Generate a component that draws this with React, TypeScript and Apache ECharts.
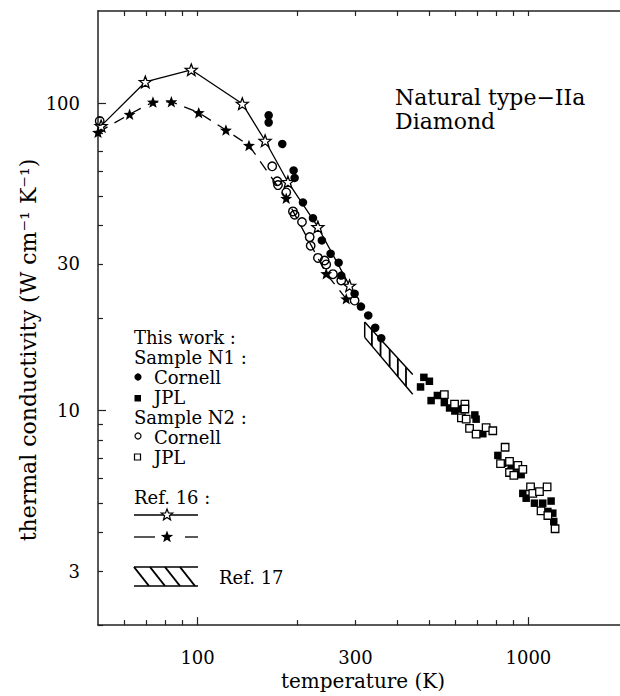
import React, { useEffect, useRef } from "react";
import * as echarts from "echarts";

// ---------- data (temperature in K, conductivity in W cm^-1 K^-1) ----------
const ref16SolidT = [51.1, 69.5, 95.7, 136.5, 160, 187.5, 231, 288];
const ref16SolidK = [84.5, 117.5, 128.7, 99.8, 75.6, 55.5, 39.6, 25.5];

const ref16DashT = [50.0, 62.3, 73.3, 83.3, 100.8, 121.8, 143, 185.3, 244.8, 281.4];
const ref16DashK = [80.5, 92.2, 101, 101.3, 93.3, 81.9, 73, 49.1, 27.9, 23.1];

const n1CornellT = [164, 164, 180.3, 195.1, 196.5, 208.2, 223.2, 237.5, 252.4, 266.9, 271.8, 298.3, 311.7, 328, 344.3, 359];
const n1CornellK = [91.5, 86.7, 73.8, 60.5, 57.2, 47.6, 42.3, 35.8, 32.4, 30.3, 27.5, 24.0, 21.8, 20.4, 18.6, 17.2];

const n2CornellT = [50.6, 168.1, 174.1, 175, 185.3, 194.2, 196.5, 206.8, 218.2, 219.7, 231.1, 242.1, 244.8, 256.5, 271.8, 298.3];
const n2CornellK = [87.7, 62.4, 55.8, 54.2, 51.3, 44.5, 43.4, 41.1, 36.7, 34.4, 31.4, 30.8, 29.9, 27.8, 26.5, 22.8];

const n1JplT = [483, 502, 472, 508, 530.6, 557, 577.7, 599.3, 619.3, 688.7, 695, 728.1, 808.5, 836.9, 886.5, 917.9, 950.6, 961.8, 984.5, 1043, 1105, 1171, 1145, 1185, 1193];
const n1JplK = [12.82, 12.45, 11.93, 10.77, 11.19, 10.61, 10.19, 9.96, 10.11, 9.67, 9.37, 8.4, 7.14, 6.73, 6.63, 6.54, 6.18, 5.37, 5.18, 4.99, 4.99, 5.07, 4.69, 4.63, 4.35];

const n2JplT = [557, 598, 642.7, 642.7, 627.2, 648.5, 663.8, 695, 745, 780.4, 850.4, 823.6, 876.7, 929, 961.8, 876.7, 903.5, 1015, 1139, 1031, 1080, 1092, 1145, 1204];
const n2JplK = [11.26, 10.49, 10.49, 10.11, 9.46, 9.37, 8.74, 8.38, 8.8, 8.59, 7.59, 6.71, 6.83, 6.63, 6.43, 6.28, 6.15, 5.64, 5.64, 5.37, 5.44, 4.71, 4.55, 4.12];

// Ref. 17 band: start/end temperature, upper and lower conductivity edges
const ref17T = [320, 447];
const ref17Upper = [19.4, 13.1];
const ref17Lower = [17.3, 11.3];

// axis ticks
const xRange = [50, 2000];
const yRange = [2, 200];
const xLabelTicks = [100, 300, 1000];
const xMajorTicks = [100, 1000];
const xMinorTicks = [60, 70, 80, 90, 200, 300, 400, 500, 600, 700, 800, 900, 2000];
const yLabelTicks = [3, 10, 30, 100];
const yMajorTicks = [10, 100];
const yMinorTicks = [2, 3, 4, 5, 6, 7, 8, 9, 20, 30, 40, 50, 60, 70, 80, 90];

const lg = (v: number) => Math.log10(v);
const pts = (T: number[], K: number[]) => T.map((t, i) => [lg(t), lg(K[i])]);

const STAR =
  "path://M0,-10 L2.47,-3.4 L9.51,-3.09 L3.99,1.3 L5.88,8.09 L0,4.2 L-5.88,8.09 L-3.99,1.3 L-9.51,-3.09 L-2.47,-3.4 Z";

function starPoints(cx: number, cy: number, R: number) {
  const p: number[][] = [];
  for (let i = 0; i < 10; i++) {
    const a = (-90 + i * 36) * (Math.PI / 180);
    const r = i % 2 === 0 ? R : R * 0.42;
    p.push([cx + r * Math.cos(a), cy + r * Math.sin(a)]);
  }
  return p;
}

const FONT = "DejaVu Serif";
const INK = "#000";

export default function App() {
  const ref = useRef<HTMLDivElement>(null);
  useEffect(() => {
    if (!ref.current) return;
    const chart = echarts.init(ref.current, null, { renderer: "svg" });
    const fmt = (v: number) => String(Math.round(Math.pow(10, v)));
    const axLine = { show: true, lineStyle: { color: "#222", width: 1.5 } };
    const tickStyle = { color: "#222", width: 1.2 };
    const baseX = {
      type: "value",
      min: lg(xRange[0]),
      max: lg(xRange[1]),
      splitLine: { show: false },
    };
    const baseY = {
      type: "value",
      min: lg(yRange[0]),
      max: lg(yRange[1]),
      splitLine: { show: false },
    };
    const labelStyle = { color: INK, fontFamily: FONT, fontSize: 18 };

    const hatchF = [0.15, 0.33, 0.52, 0.69, 0.86];

    const txt = (t: string, x: number, y: number, size = 18) => ({
      type: "text",
      x,
      y,
      style: {
        text: t,
        fill: INK,
        font: `${size}px "${FONT}"`,
        lineHeight: size,
        verticalAlign: "middle",
        textAlign: "left",
      },
    });
    const ln = (x1: number, y1: number, x2: number, y2: number, w = 1.4) => ({
      type: "line",
      shape: { x1, y1, x2, y2 },
      style: { stroke: INK, lineWidth: w },
    });

    chart.setOption({
      animation: false,
      backgroundColor: "#fff",
      grid: { left: 98, top: 11, right: 12, bottom: 63, containLabel: false },
      xAxis: [
        {
          ...baseX,
          position: "bottom",
          name: "temperature (K)",
          nameLocation: "middle",
          nameGap: 43,
          nameTextStyle: { color: INK, fontFamily: FONT, fontSize: 20 },
          axisLine: axLine,
          axisTick: { show: true, inside: true, length: 8, lineStyle: tickStyle, customValues: xMajorTicks.map(lg) },
          axisLabel: { ...labelStyle, margin: 23, customValues: xLabelTicks.map(lg), formatter: fmt },
        },
        {
          ...baseX,
          position: "bottom",
          axisLine: { show: false },
          axisTick: { show: true, inside: true, length: 5, lineStyle: tickStyle, customValues: xMinorTicks.map(lg) },
          axisLabel: { show: false },
        },
        {
          ...baseX,
          position: "top",
          axisLine: axLine,
          axisTick: {
            show: true,
            inside: true,
            length: 5,
            lineStyle: tickStyle,
            customValues: [...xMajorTicks, ...xMinorTicks].map(lg),
          },
          axisLabel: { show: false },
        },
      ],
      yAxis: [
        {
          ...baseY,
          position: "left",
          axisLine: axLine,
          axisTick: { show: true, inside: true, length: 8, lineStyle: tickStyle, customValues: yMajorTicks.map(lg) },
          axisLabel: { ...labelStyle, margin: 18, customValues: yLabelTicks.map(lg), formatter: fmt },
        },
        {
          ...baseY,
          position: "left",
          axisLine: { show: false },
          axisTick: { show: true, inside: true, length: 5, lineStyle: tickStyle, customValues: yMinorTicks.map(lg) },
          axisLabel: { show: false },
        },
      ],
      series: [
        {
          type: "custom",
          name: "Ref. 17",
          coordinateSystem: "cartesian2d",
          xAxisIndex: 0,
          yAxisIndex: 0,
          silent: true,
          data: [[lg(ref17T[0]), lg(ref17T[1]), lg(ref17Upper[0]), lg(ref17Upper[1]), lg(ref17Lower[0]), lg(ref17Lower[1])]],
          encode: { x: [0, 1], y: [2, 3, 4, 5] },
          renderItem: (params: any, api: any) => {
            const u0 = api.coord([api.value(0), api.value(2)]);
            const u1 = api.coord([api.value(1), api.value(3)]);
            const l0 = api.coord([api.value(0), api.value(4)]);
            const l1 = api.coord([api.value(1), api.value(5)]);
            const lerp = (a: number[], b: number[], f: number) => [a[0] + (b[0] - a[0]) * f, a[1] + (b[1] - a[1]) * f];
            const st = { stroke: INK, lineWidth: 1.5, fill: null };
            const children: any[] = [
              { type: "line", shape: { x1: u0[0], y1: u0[1], x2: u1[0], y2: u1[1] }, style: st },
              { type: "line", shape: { x1: l0[0], y1: l0[1], x2: l1[0], y2: l1[1] }, style: st },
              { type: "line", shape: { x1: u0[0], y1: u0[1], x2: l0[0], y2: l0[1] }, style: st },
            ];
            hatchF.forEach((f) => {
              const a = lerp(u0, u1, f);
              const b = lerp(l0, l1, f);
              children.push({ type: "line", shape: { x1: a[0], y1: a[1], x2: b[0], y2: b[1] }, style: { ...st, lineWidth: 1.8 } });
            });
            return { type: "group", children };
          },
        },
        {
          type: "line",
          name: "Ref. 16 (solid)",
          data: pts(ref16SolidT, ref16SolidK),
          symbol: STAR,
          symbolSize: [12, 11.5],
          showAllSymbol: true,
          lineStyle: { color: INK, width: 1.3 },
          itemStyle: { color: "#fff", borderColor: INK, borderWidth: 1.3, opacity: 1 },
          z: 3,
        },
        {
          type: "line",
          name: "Ref. 16 (dashed)",
          data: pts(ref16DashT, ref16DashK),
          symbol: STAR,
          symbolSize: [12, 11.5],
          showAllSymbol: true,
          lineStyle: { color: INK, width: 1.3, type: [11, 8] },
          itemStyle: { color: INK, borderColor: INK, borderWidth: 0, opacity: 1 },
          z: 3,
        },
        {
          type: "scatter",
          name: "Sample N2 Cornell",
          data: pts(n2CornellT, n2CornellK),
          symbol: "circle",
          symbolSize: 8.5,
          itemStyle: { color: "rgba(255,255,255,0)", borderColor: INK, borderWidth: 1.4, opacity: 1 },
          z: 4,
        },
        {
          type: "scatter",
          name: "Sample N1 Cornell",
          data: pts(n1CornellT, n1CornellK),
          symbol: "circle",
          symbolSize: 8.5,
          itemStyle: { color: INK, opacity: 1 },
          z: 4,
        },
        {
          type: "scatter",
          name: "Sample N1 JPL",
          data: pts(n1JplT, n1JplK),
          symbol: "rect",
          symbolSize: 7.5,
          itemStyle: { color: INK, opacity: 1 },
          z: 4,
        },
        {
          type: "scatter",
          name: "Sample N2 JPL",
          data: pts(n2JplT, n2JplK),
          symbol: "rect",
          symbolSize: 7.5,
          itemStyle: { color: "#fff", borderColor: INK, borderWidth: 1.3, opacity: 1 },
          z: 5,
        },
      ],
      graphic: [
        {
          type: "text",
          x: 28,
          y: 350,
          rotation: Math.PI / 2,
          style: {
            text: "thermal conductivity (W cm⁻¹ K⁻¹)",
            fill: INK,
            font: `22px "${FONT}"`,
            textAlign: "center",
            verticalAlign: "middle",
          },
        },
        txt("Natural type−IIa", 395, 97, 22),
        txt("Diamond", 395, 121, 22),
        txt("This work :", 134, 337),
        txt("Sample N1 :", 134, 357),
        { type: "circle", shape: { cx: 138, cy: 377, r: 3.6 }, style: { fill: INK } },
        txt("Cornell", 154, 377),
        { type: "rect", shape: { x: 134.5, y: 395, width: 6.5, height: 6.5 }, style: { fill: INK } },
        txt("JPL", 154, 397),
        txt("Sample N2 :", 134, 417),
        { type: "circle", shape: { cx: 138, cy: 436, r: 3 }, style: { fill: "#fff", stroke: INK, lineWidth: 1.2 } },
        txt("Cornell", 154, 437),
        { type: "rect", shape: { x: 134.5, y: 454, width: 6, height: 6 }, style: { fill: "#fff", stroke: INK, lineWidth: 1.2 } },
        txt("JPL", 154, 457),
        txt("Ref. 16 :", 134, 497),
        ln(134, 515, 198, 515, 1.3),
        { type: "polygon", shape: { points: starPoints(167, 515, 6) }, style: { fill: "#fff", stroke: INK, lineWidth: 1.2 } },
        ln(134, 537, 155, 537, 1.3),
        ln(185, 537, 198, 537, 1.3),
        { type: "polygon", shape: { points: starPoints(167, 537, 6.5) }, style: { fill: INK } },
        ln(134, 567, 198, 567),
        ln(134, 586, 198, 586),
        ln(134, 567, 149, 586, 2),
        ln(150, 567, 165, 586, 2),
        ln(165, 567, 180, 586, 2),
        ln(180, 567, 195, 586, 2),
        txt("Ref. 17", 219, 577),
      ],
    });
    return () => chart.dispose();
  }, []);

  return (
    <div style={{ position: "absolute", left: 0, top: 0, width: 620, height: 696, overflow: "hidden", background: "#fff" }}>
      <div ref={ref} style={{ width: 640, height: 696 }} />
    </div>
  );
}
